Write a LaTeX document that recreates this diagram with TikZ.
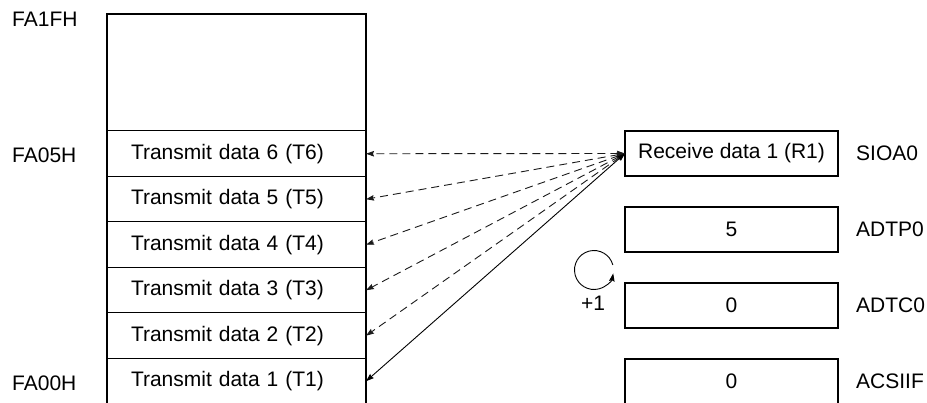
\documentclass[tikz,border=0pt]{standalone}
\usepackage{fontspec}
\setmainfont{Liberation Sans}
\usepackage{tikz}
\usetikzlibrary{arrows.meta,positioning,calc}
\definecolor{cInk}{HTML}{000000}
\definecolor{cDash}{HTML}{1A1A1A}

\begin{document}
\begin{tikzpicture}[
  x=1pt,y=1pt,
  font=\fontsize{21}{25}\selectfont,
  tip/.style={Stealth[length=8pt,width=5.5pt,inset=1pt]},
  dbl/.style={{Stealth[length=8pt,width=5.5pt,inset=1pt]}-{Stealth[length=8pt,width=5.5pt,inset=1pt]},line width=0.9pt,color=cInk},
  dsh/.style={dbl,color=cDash,dash pattern=on 8pt off 5pt},
  ar/.style={-{Stealth[length=8pt,width=5.5pt,inset=1pt]},line width=0.9pt,color=cInk},
  frame/.style={line width=2pt,color=cInk},
  row/.style={draw,line width=1pt,outer sep=0pt,minimum height=45.5pt,
              text width=211pt,inner xsep=24pt,inner ysep=0pt,align=left},
  reg/.style={draw,line width=2pt,outer sep=0pt,minimum width=213pt,
              minimum height=45pt,inner sep=0pt,align=center},
  addr/.style={anchor=west,inner sep=0pt},
  rname/.style={inner sep=0pt},
]
\useasboundingbox (0,0) rectangle (927,402);

% ====================================================== LEFT: RAM area
\node[row,minimum height=117pt] (free) at (236.5,329.5) {};
\node[row,below=0pt of free] (t6) {Transmit data 6 (T6)};
\node[row,below=0pt of t6]   (t5) {Transmit data 5 (T5)};
\node[row,below=0pt of t5]   (t4) {Transmit data 4 (T4)};
\node[row,below=0pt of t4]   (t3) {Transmit data 3 (T3)};
\node[row,below=0pt of t3]   (t2) {Transmit data 2 (T2)};
\node[row,below=0pt of t2]   (t1) {Transmit data 1 (T1)};
\draw[frame] (t1.south west) |- (free.north east) -- (t1.south east);

% addresses
\node[addr] (aTop) at (12,383) {FA1FH};
\node[addr] (aT6)  at (12,247) {FA05H};
\node[addr] (aT1)  at (12,19)  {FA00H};

% ====================================================== RIGHT: registers
\node[reg] (rx) at (731.5,248.5) {Receive data 1 (R1)};
\node[reg,below=31pt of rx]   (tp) {5};
\node[reg,below=31pt of tp]   (tc) {0};
\node[reg,below=31pt of tc]   (sf) {0};

\node[rname,anchor=west,right=18pt of rx] (nRx) {SIOA0};
\node[rname,anchor=west,right=18pt of tp] (nTp) {ADTP0};
\node[rname,anchor=west,right=18pt of tc] (nTc) {ADTC0};
\node[rname,anchor=west,right=18pt of sf] (nSf) {ACSIIF};

% transfers
\draw[dsh] (rx.west) -- (t6.east);
\draw[dsh] (rx.west) -- (t5.east);
\draw[dsh] (rx.west) -- (t4.east);
\draw[dsh] (rx.west) -- (t3.east);
\draw[dsh] (rx.west) -- (t2.east);
\draw[dbl] (rx.west) -- (t1.east);

% increment of ADTC0
\coordinate (loop) at (594,132);
\draw[ar] ($(loop)+(15:19.5)$) arc[start angle=15,end angle=350,radius=19.5];
\node (inc) at (593,99) {+1};

\end{tikzpicture}
\end{document}
